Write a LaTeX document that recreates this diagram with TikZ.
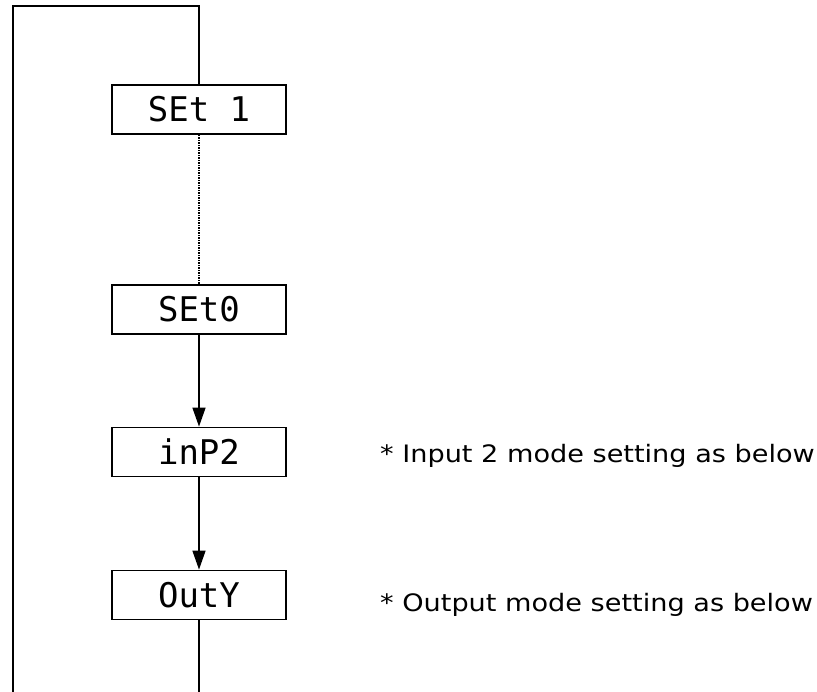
\documentclass[tikz,border=0pt]{standalone}
\usepackage{fontspec}
\setmainfont{DejaVu Sans}
\newfontfamily\notefont[FakeStretch=1.13]{DejaVu Sans}
\newfontfamily\segfont{DejaVu Sans Mono}
\usetikzlibrary{arrows.meta}
\tikzset{
  dispbox/.style={draw, line width=1.8pt, minimum width=174pt, minimum height=49pt,
    inner sep=0pt, font=\segfont\fontsize{34pt}{34pt}\selectfont},
  flow/.style={line width=1.5pt},
  flowarrow/.style={flow, -{Triangle[length=19pt,width=13pt]}},
  note/.style={anchor=base west, inner sep=0pt, font=\notefont\fontsize{24pt}{24pt}\selectfont}
}
\begin{document}
\begin{tikzpicture}[x=1pt, y=-1pt]
  \useasboundingbox (0,0) rectangle (817,692);

  % parameter display boxes
  \node[dispbox] (s1)   at (199,109.5) {SEt 1};
  \node[dispbox] (s0)   at (199,309.5) {SEt0};
  \node[dispbox] (inp)  at (199,452)   {inP2};
  \node[dispbox] (outy) at (199,595)   {OutY};

  % side notes
  \node[note] (n1) at (380,463) {* Input 2 mode setting as below};
  \node[note] (n2) at (380,611) {* Output mode setting as below};

  % return loop corners and open ends
  \coordinate (bl) at (13,692);
  \coordinate (tl) at (13,6);
  \coordinate (tr) at (199,6);
  \coordinate (bot) at (199,692);

  % connectors
  \draw[flow] (bl) -- (tl) -- (tr) -- (s1.north);
  \draw[line width=1.3pt, dash pattern=on 1.3pt off 1.2pt] (s1.south) -- (s0.north);
  \draw[flowarrow] (s0.south) -- (inp.north);
  \draw[flowarrow] (inp.south) -- (outy.north);
  \draw[flow] (outy.south) -- (bot);
\end{tikzpicture}
\end{document}
